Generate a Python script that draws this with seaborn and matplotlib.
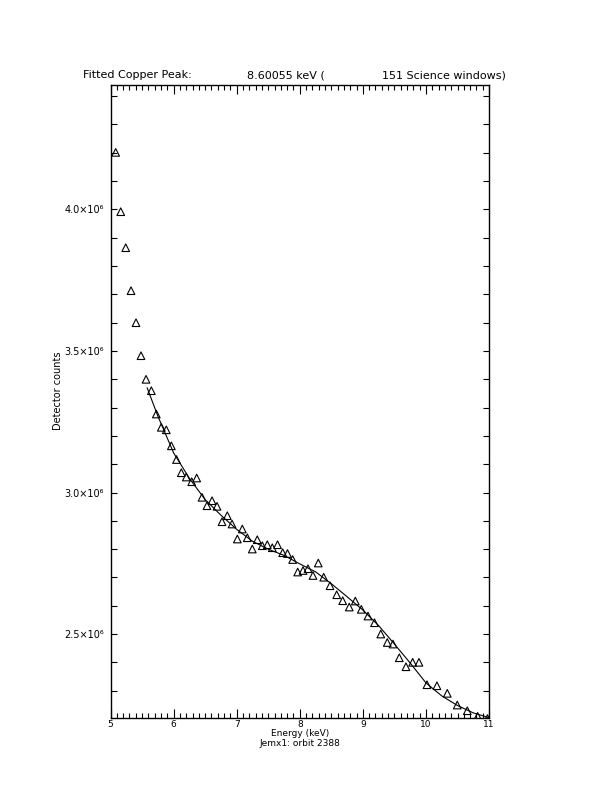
import matplotlib
matplotlib.use('Agg')
import matplotlib.pyplot as plt
from matplotlib.ticker import MultipleLocator, FuncFormatter
import seaborn as sns
import pandas as pd

# measured spectrum (keV, counts)
energy = [5.082, 5.162, 5.241, 5.325, 5.404, 5.483, 5.563, 5.647, 5.726, 5.805,
          5.884, 5.964, 6.046, 6.122, 6.201, 6.287, 6.366, 6.450, 6.529, 6.609,
          6.688, 6.767, 6.851, 6.926, 7.010, 7.089, 7.168, 7.247, 7.326, 7.406,
          7.485, 7.564, 7.647, 7.729, 7.805, 7.887, 7.967, 8.051, 8.130, 8.209,
          8.293, 8.379, 8.479, 8.585, 8.680, 8.784, 8.880, 8.975, 9.081, 9.184,
          9.284, 9.387, 9.477, 9.577, 9.683, 9.789, 9.889, 10.016, 10.174, 10.338,
          10.496, 10.655, 10.819, 10.975]
counts = [4.201e6, 3.9915e6, 3.8644e6, 3.7126e6, 3.5996e6, 3.4831e6, 3.3997e6, 3.3595e6, 3.2772e6, 3.2302e6,
          3.2214e6, 3.1649e6, 3.1165e6, 3.0699e6, 3.0547e6, 3.0382e6, 3.0512e6, 2.9831e6, 2.9534e6, 2.9711e6,
          2.9513e6, 2.8969e6, 2.9181e6, 2.8888e6, 2.8358e6, 2.8711e6, 2.8404e6, 2.8005e6, 2.8334e6, 2.8122e6,
          2.8157e6, 2.8051e6, 2.8157e6, 2.7875e6, 2.7846e6, 2.7634e6, 2.7193e6, 2.7246e6, 2.7310e6, 2.7070e6,
          2.7511e6, 2.7010e6, 2.6709e6, 2.6391e6, 2.6180e6, 2.5957e6, 2.6169e6, 2.5876e6, 2.5639e6, 2.5403e6,
          2.5004e6, 2.4704e6, 2.4650e6, 2.4167e6, 2.3849e6, 2.4005e6, 2.4005e6, 2.3214e6, 2.3178e6, 2.2910e6,
          2.2497e6, 2.2296e6, 2.2098e6, 2.2020e6]

# fitted model curve
fit_energy = [5.58, 5.75, 6.0, 6.25, 6.5, 6.75, 7.0, 7.25, 7.5, 7.75, 8.0,
              8.25, 8.5, 8.75, 9.0, 9.25, 9.5, 9.75, 10.0, 10.25, 10.5, 10.75, 11.0]
fit_counts = [3.37e6, 3.27e6, 3.14e6, 3.05e6, 2.975e6, 2.92e6, 2.87e6, 2.828e6, 2.80e6, 2.778e6, 2.748e6,
              2.72e6, 2.678e6, 2.632e6, 2.585e6, 2.53e6, 2.465e6, 2.398e6, 2.328e6, 2.282e6, 2.248e6, 2.222e6, 2.205e6]

title_left = 'Fitted Copper Peak:'
title_mid = '8.60055 keV ('
title_right = '151 Science windows)'
xlabel = 'Energy (keV)'
sublabel = 'Jemx1: orbit 2388'
ylabel = 'Detector counts'

df = pd.DataFrame({'energy': energy, 'counts': counts})
fit = pd.DataFrame({'energy': fit_energy, 'counts': fit_counts})

sns.set_style('ticks')
plt.rcParams['font.family'] = ['DejaVu Sans']
plt.rcParams['text.color'] = 'black'

fig = plt.figure(figsize=(6.12, 7.92), dpi=100)
ax = fig.add_axes([0.1806, 0.0931, 0.6185, 0.8])

sns.scatterplot(data=df, x='energy', y='counts', marker='^', s=30,
                facecolor='none', edgecolor='black', linewidth=0.8, ax=ax)
sns.lineplot(data=fit, x='energy', y='counts', color='black', lw=0.8, ax=ax)

ax.set_xlim(5, 11)
ax.set_ylim(2.203e6, 4.44e6)
ax.xaxis.set_major_locator(MultipleLocator(1))
ax.xaxis.set_minor_locator(MultipleLocator(0.1))
ax.yaxis.set_major_locator(MultipleLocator(0.5e6))
ax.yaxis.set_minor_locator(MultipleLocator(0.1e6))
ax.yaxis.set_major_formatter(FuncFormatter(lambda v, p: f'{v / 1e6:.1f}\u00d710\u2076'))

ax.tick_params(which='both', direction='in', top=True, right=True, width=0.8,
               labelsize=7, colors='black')
ax.tick_params(axis='x', which='major', length=6.5, pad=1.5, labelsize=6.5)
ax.tick_params(axis='x', which='minor', length=3.5)
ax.tick_params(axis='y', which='both', length=4.3, pad=5)
for s in ax.spines.values():
    s.set_linewidth(1.0)
    s.set_color('black')
ax.set_xlabel('')
ax.set_ylabel('')

fig.text(83.5 / 612, 1 - 78 / 792, title_left, fontsize=8, va='baseline', ha='left')
fig.text(247 / 612, 1 - 78 / 792, title_mid, fontsize=8, va='baseline', ha='left')
fig.text(382 / 612, 1 - 78 / 792, title_right, fontsize=8, va='baseline', ha='left')
fig.text(300 / 612, 1 - 734 / 792, xlabel, fontsize=6.5, va='center', ha='center')
fig.text(300 / 612, 1 - 743 / 792, sublabel, fontsize=6.5, va='center', ha='center')
fig.text(58 / 612, 1 - 391 / 792, ylabel, fontsize=7, va='center', ha='center', rotation=90)

fig.savefig('out.png', dpi=100)
